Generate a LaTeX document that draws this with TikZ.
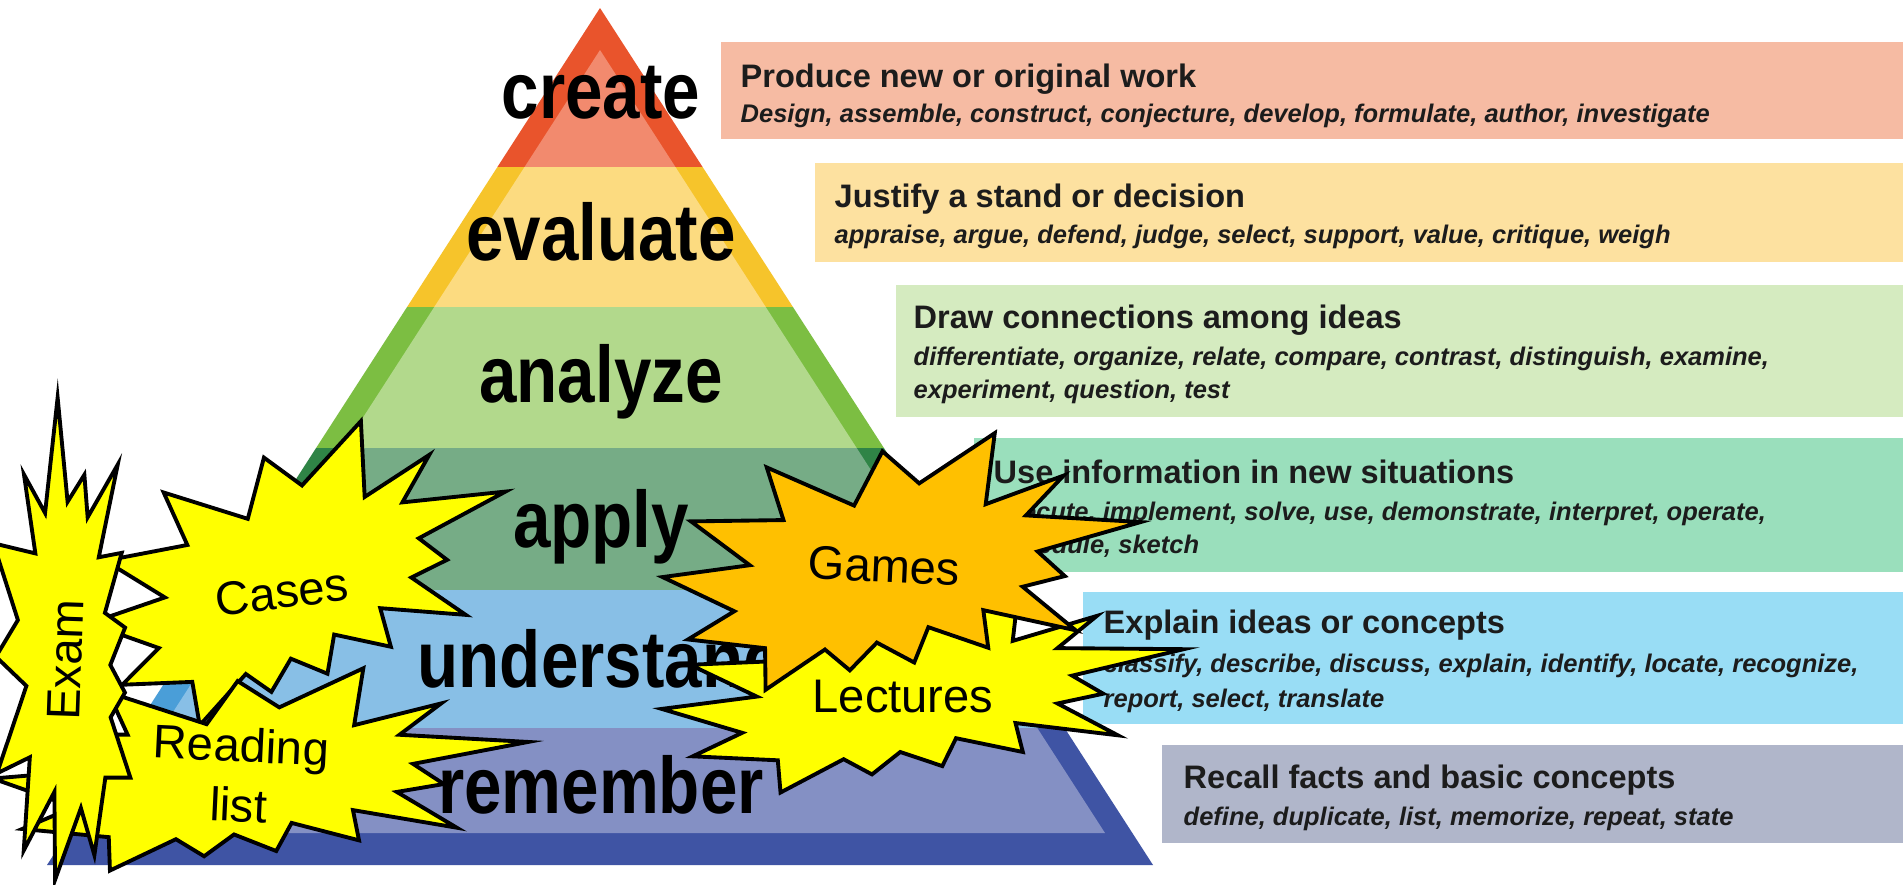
\documentclass[tikz,border=0pt]{standalone}
\usepackage{fontspec}
\setmainfont{Liberation Sans}
\newfontfamily\tierfont[FakeStretch=0.84]{Liberation Sans}

\definecolor{ink}{HTML}{1C1C1C}
% pyramid, edge and inside
\definecolor{createdark}{HTML}{E9542C}
\definecolor{createlight}{HTML}{F28A6E}
\definecolor{evaldark}{HTML}{F6C42B}
\definecolor{evallight}{HTML}{FCDB80}
\definecolor{analyzedark}{HTML}{7CBE42}
\definecolor{analyzelight}{HTML}{B2D98C}
\definecolor{applydark}{HTML}{2F8446}
\definecolor{applylight}{HTML}{76AC86}
\definecolor{understanddark}{HTML}{4A9ED8}
\definecolor{understandlight}{HTML}{88BFE6}
\definecolor{rememberdark}{HTML}{3F54A4}
\definecolor{rememberlight}{HTML}{8490C4}
% side boxes
\definecolor{createbox}{HTML}{F6BBA3}
\definecolor{evalbox}{HTML}{FDE1A0}
\definecolor{analyzebox}{HTML}{D5EBC0}
\definecolor{applybox}{HTML}{9ADFBC}
\definecolor{understandbox}{HTML}{99DDF5}
\definecolor{rememberbox}{HTML}{B0B6CA}
\definecolor{burstyellow}{HTML}{FFFF00}
\definecolor{burstorange}{HTML}{FFC000}

% explosion outline, unit size round its centre
\def\sealpath{(0.0306,-0.2990) -- (0.1847,-0.5) -- (0.1725,-0.2325) -- (0.3336,-0.3531) -- (0.2583,-0.1976) -- (0.5,-0.1924) -- (0.2863,-0.0647) -- (0.3458,0.0227) -- (0.2583,0.0699) -- (0.3739,0.2237) -- (0.1778,0.1644) -- (0.1918,0.3042) -- (0.0639,0.2377) -- (0.0376,0.3723) -- (-0.0430,0.3042) -- (-0.0972,0.4126) -- (-0.1515,0.3391) -- (-0.2724,0.5) -- (-0.2776,0.3444) -- (-0.4405,0.3252) -- (-0.3458,0.2116) -- (-0.5,0.0962) -- (-0.3178,0.0367) -- (-0.4457,-0.1171) -- (-0.2513,-0.1381) -- (-0.2916,-0.3322) -- (-0.1042,-0.2045) -- (-0.0499,-0.4126) -- cycle}

% #1 centre, #2 width, #3 height, #4 angle, #5 fill
\newcommand{\explosion}[5]{%
  \begin{scope}[shift={(#1)}, rotate=#4, xscale=#2, yscale=#3]
    \filldraw[burst, fill=#5] \sealpath;
  \end{scope}}

\begin{document}
\begin{tikzpicture}[x=0.01cm, y=-0.01cm,
  tier/.style={anchor=base, inner sep=0pt, text=black, font=\tierfont\bfseries\fontsize{22.8}{24}\selectfont},
  head/.style={anchor=base west, inner sep=0pt, text=ink, font=\bfseries\fontsize{9.25}{11}\selectfont},
  verbs/.style={anchor=base west, inner sep=0pt, text=ink, font=\bfseries\itshape\fontsize{7.25}{9}\selectfont},
  burst/.style={draw=black, line width=1.1pt},
  tag/.style={inner sep=0pt, align=center, font=\fontsize{13.4}{17}\selectfont}]

  \useasboundingbox (0,0) rectangle (1903,884);
  \fill[white] (0,0) rectangle (1903,884);

  %boxes
  \foreach \xa/\ya/\yb/\col in {721/42/139/createbox, 815/163/262/evalbox, 896/285/417/analyzebox,
                               974/438/572/applybox, 1083/592/724/understandbox, 1162/745/843/rememberbox}{
      \fill[\col] (\xa,\ya) rectangle (1903,\yb);
  }

  %pyramid edge
  \begin{scope}
    \clip (600,8) -- (1153,865) -- (47,865) -- cycle;
    \foreach \ya/\yb/\col in {0/167/createdark, 167/307/evaldark, 307/448/analyzedark,
                             448/590/applydark, 590/728/understanddark, 728/884/rememberdark}{
        \fill[\col] (0,\ya) rectangle (1903,\yb);
    }
  \end{scope}
  %pyramid inside
  \begin{scope}
    \clip (600,50) -- (1105,833) -- (95,833) -- cycle;
    \foreach \ya/\yb/\col in {0/167/createlight, 167/307/evallight, 307/448/analyzelight,
                             448/590/applylight, 590/728/understandlight, 728/884/rememberlight}{
        \fill[\col] (0,\ya) rectangle (1903,\yb);
    }
  \end{scope}

  %levels
  \foreach \y/\word in {118/create, 260/evaluate, 402/analyze, 547/apply, 687/understand, 813/remember}{
      \node[tier] (l\word) at (601,\y) {\word};
  }

  %texts
  \node[head] (hcreate) at (740,87) {Produce new or original work};
  \node[verbs] (vcreate) at (740,122) {Design, assemble, construct, conjecture, develop, formulate, author, investigate};

  \node[head] (hevaluate) at (834,207) {Justify a stand or decision};
  \node[verbs] (vevaluate) at (834,243) {appraise, argue, defend, judge, select, support, value, critique, weigh};

  \node[head] (hanalyze) at (913,328) {Draw connections among ideas};
  \node[verbs] (vanalyze) at (913,365) {differentiate, organize, relate, compare, contrast, distinguish, examine,};
  \node[verbs] (vanalyzeb) at (913,398) {experiment, question, test};

  \node[head] (happly) at (993,483) {Use information in new situations};
  \node[verbs] (vapply) at (993,520) {execute, implement, solve, use, demonstrate, interpret, operate,};
  \node[verbs] (vapplyb) at (993,553) {schedule, sketch};

  \node[head] (hunderstand) at (1103,633) {Explain ideas or concepts};
  \node[verbs] (vunderstand) at (1103,672) {classify, describe, discuss, explain, identify, locate, recognize,};
  \node[verbs] (vunderstandb) at (1103,707) {report, select, translate};

  \node[head] (hremember) at (1183,788) {Recall facts and basic concepts};
  \node[verbs] (vremember) at (1183,825) {define, duplicate, list, memorize, repeat, state};

  %bursts
  \explosion{299,571}{429}{283}{6.8}{burstyellow}
  \node[tag, rotate=7] (tcases) at (282,592) {Cases};

  \explosion{260,770.5}{533}{214}{-2.7}{burstyellow}
  \node[tag, rotate=-2.7] (treading) at (240,775) {Reading\\list};

  \explosion{64,639.5}{480}{160}{84.2}{burstyellow}
  \node[tag, rotate=88] (texam) at (66,660) {Exam};

  \explosion{922.7,689}{522}{207}{0}{burstyellow}
  \node[tag] (tlectures) at (903,697) {Lectures};

  \explosion{901,562.4}{475}{267}{-2.65}{burstorange}
  \node[tag, rotate=-2.6] (tgames) at (884,566) {Games};

\end{tikzpicture}
\end{document}
